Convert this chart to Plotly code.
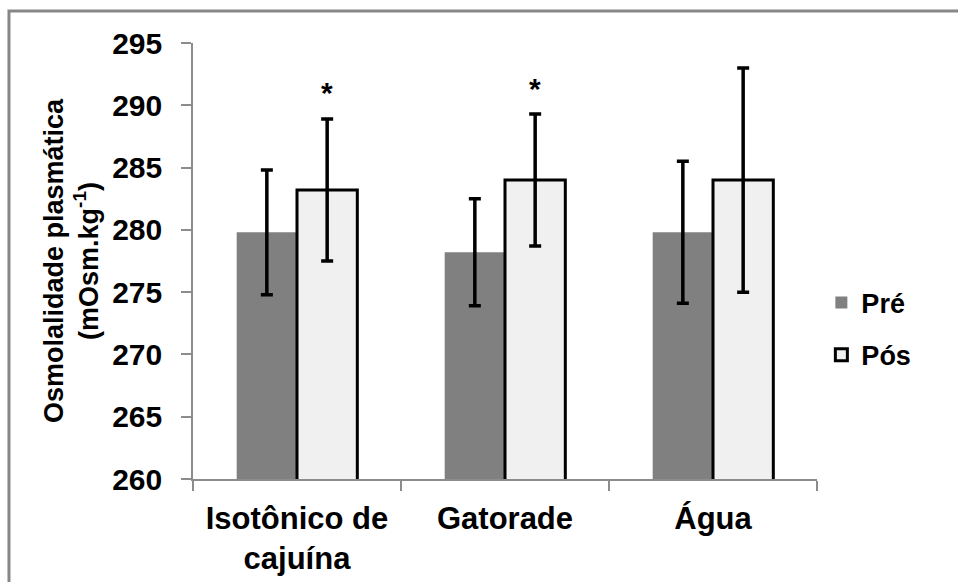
import plotly.graph_objects as go

categories = ["Isotônico de<br>cajuína", "Gatorade", "Água"]
pre_values = [279.8, 278.2, 279.8]
pre_errors = [5.0, 4.3, 5.7]
pos_values = [283.2, 284.0, 284.0]
pos_errors = [5.7, 5.3, 9.0]
significant = [True, True, False]
y_ticks = [260, 265, 270, 275, 280, 285, 290, 295]

FONT = "Liberation Sans, Arial, sans-serif"

fig = go.Figure()
fig.add_trace(go.Bar(
    name="Pré", x=categories, y=pre_values,
    marker=dict(color="#808080", line=dict(width=0)),
    error_y=dict(type="data", array=pre_errors, visible=True,
                 color="black", thickness=3.5, width=6),
    legendgroup="a",
))
fig.add_trace(go.Bar(
    name="Pós", x=categories, y=pos_values,
    marker=dict(color="#f0f0f0", line=dict(width=3, color="black")),
    error_y=dict(type="data", array=pos_errors, visible=True,
                 color="black", thickness=3.5, width=6),
    legendgroup="b",
))

for cat, val, err, sig in zip(categories, pos_values, pos_errors, significant):
    if sig:
        fig.add_annotation(x=cat, y=val + err, xref="x", yref="y", text="<b>*</b>",
                           showarrow=False, xshift=30, yshift=26,
                           font=dict(family=FONT, size=30, color="black"))

# outer chart border (cropped at right/bottom)
fig.add_shape(type="rect", xref="paper", yref="paper",
              x0=-0.2949, x1=1.25, y0=-0.26, y1=1.0734,
              line=dict(color="#878787", width=3), fillcolor="rgba(0,0,0,0)",
              layer="below")

fig.update_layout(
    width=958, height=582,
    margin=dict(l=193, r=141, t=43, b=103),
    paper_bgcolor="white", plot_bgcolor="white",
    barmode="group", bargap=0.42, bargroupgap=0,
    font=dict(family=FONT, color="black"),
    showlegend=True,
    legend=dict(x=1.007, y=0.344, xanchor="left", yanchor="middle",
                font=dict(family=FONT, size=27, weight="bold", color="black"),
                tracegroupgap=14, traceorder="grouped",
                itemwidth=30, bgcolor="rgba(0,0,0,0)"),
    xaxis=dict(
        showline=True, linecolor="#8c8c8c", linewidth=1.5,
        ticks="outside", tickson="boundaries", ticklen=10, tickcolor="#8c8c8c",
        tickwidth=1.5,
        tickfont=dict(family=FONT, size=31, weight="bold", color="black"),
        ticklabelstandoff=11, automargin=False,
        showgrid=False,
    ),
    yaxis=dict(
        range=[260, 295], tickvals=y_ticks,
        showline=True, linecolor="#8c8c8c", linewidth=1.5,
        ticks="outside", ticklen=10, tickcolor="#8c8c8c", tickwidth=1.5,
        tickfont=dict(family=FONT, size=30, weight="bold", color="black"),
        ticklabelstandoff=13, automargin=False,
        showgrid=False, zeroline=False,
        title=dict(text="Osmolalidade plasmática<br>(mOsm.kg<sup>-1</sup>)",
                   font=dict(family=FONT, size=27, weight="bold", color="black"),
                   standoff=6),
    ),
)

fig.write_html("out.html")
